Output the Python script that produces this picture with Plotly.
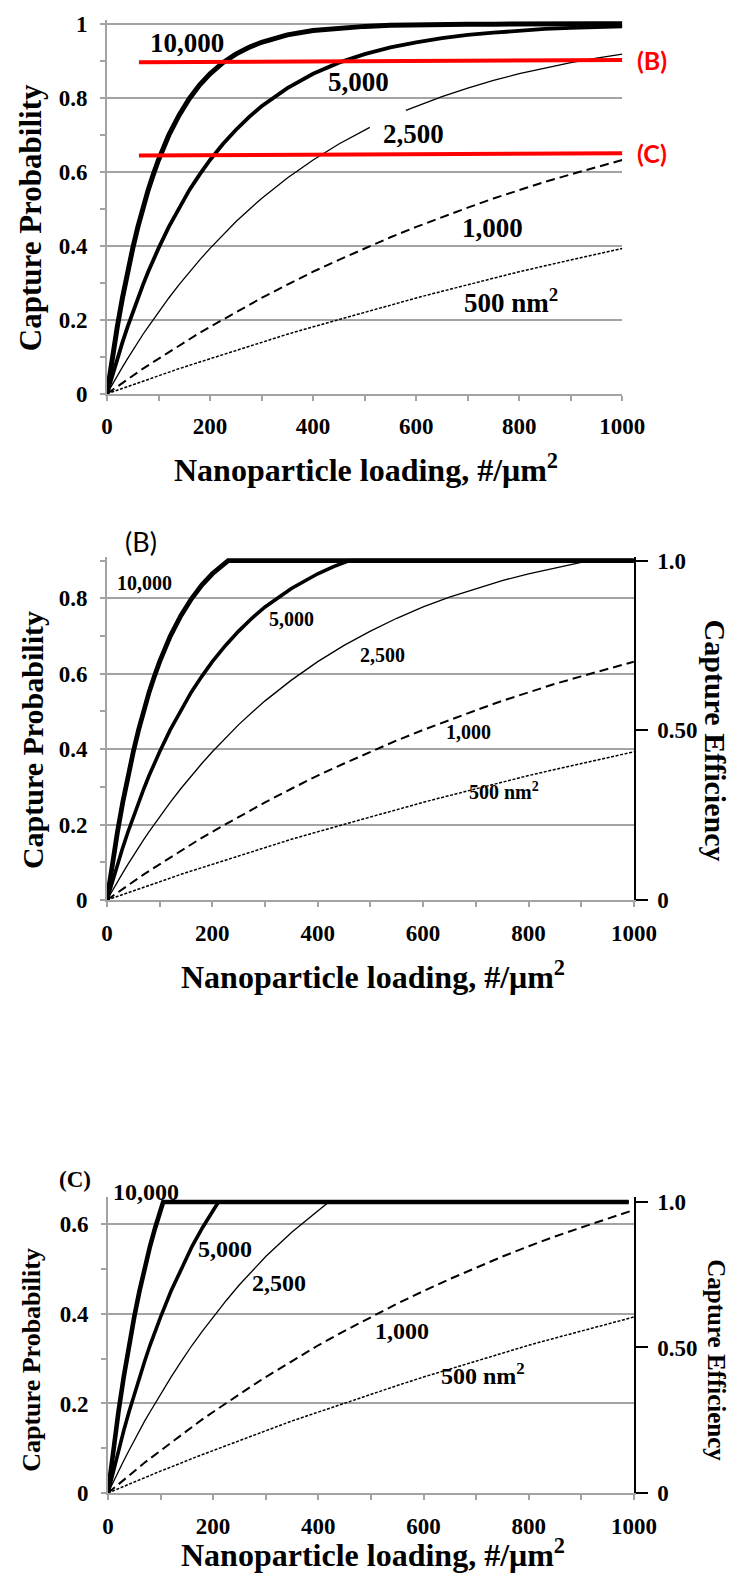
import plotly.graph_objects as go

# ---------------- data ----------------
loading = [0, 10, 20, 30, 40, 50, 60, 70, 80, 90, 100, 120, 140, 160, 180, 200, 225, 250,
           275, 300, 350, 400, 450, 500, 550, 600, 650, 700, 750, 800, 850, 900, 950, 1000]

p_10000 = [0, 0.095, 0.181, 0.259, 0.330, 0.393, 0.451, 0.503, 0.551, 0.593, 0.632, 0.699, 0.753,
           0.798, 0.835, 0.865, 0.895, 0.918, 0.936, 0.950, 0.970, 0.982, 0.989, 0.993, 0.996,
           0.998, 0.998, 0.999, 0.999, 1.0, 1.0, 1.0, 1.0, 1.0]
p_5000 = [0, 0.049, 0.095, 0.139, 0.181, 0.221, 0.259, 0.295, 0.330, 0.362, 0.393, 0.451, 0.503,
          0.551, 0.593, 0.632, 0.675, 0.713, 0.747, 0.777, 0.826, 0.865, 0.895, 0.918, 0.936,
          0.950, 0.961, 0.970, 0.976, 0.982, 0.986, 0.989, 0.991, 0.993]
p_1000 = [0, 0.010, 0.020, 0.030, 0.039, 0.049, 0.058, 0.068, 0.077, 0.086, 0.095, 0.113, 0.131,
          0.148, 0.165, 0.181, 0.201, 0.221, 0.240, 0.259, 0.295, 0.330, 0.362, 0.393, 0.423,
          0.451, 0.478, 0.503, 0.528, 0.551, 0.573, 0.593, 0.613, 0.632]
p_500 = [0, 0.005, 0.010, 0.015, 0.020, 0.025, 0.030, 0.034, 0.039, 0.044, 0.049, 0.058, 0.068,
         0.077, 0.086, 0.095, 0.106, 0.118, 0.128, 0.139, 0.161, 0.181, 0.201, 0.221, 0.240,
         0.259, 0.277, 0.295, 0.313, 0.330, 0.346, 0.362, 0.378, 0.393]

# 2,500 nm2 curve of panel A (interrupted where its label sits)
a_x_2500 = [0, 10, 20, 30, 40, 50, 60, 70, 80, 90, 100, 120, 140, 160, 180, 200, 225, 250,
            275, 300, 350, 400, 450, 500, 510, None, 580, 600, 650, 700, 750, 800, 850, 900, 950, 1000]
a_y_2500 = [0, 0.025, 0.049, 0.072, 0.095, 0.118, 0.139, 0.161, 0.181, 0.201, 0.221, 0.259, 0.295,
            0.330, 0.362, 0.393, 0.430, 0.465, 0.497, 0.528, 0.583, 0.632, 0.675, 0.713, 0.720, None,
            0.766, 0.777, 0.803, 0.826, 0.847, 0.865, 0.881, 0.895, 0.907, 0.918]

# red threshold lines of panel A
red_x = [62, 1000]
red_b = [0.896, 0.902]
red_c = [0.644, 0.650]

# panel B (capped at 0.9)
b_x_10000 = [0, 10, 20, 30, 40, 50, 60, 70, 80, 90, 100, 120, 140, 160, 180, 200, 215, 230, 1000]
b_y_10000 = [0, 0.095, 0.181, 0.259, 0.330, 0.393, 0.451, 0.503, 0.551, 0.593, 0.632, 0.699, 0.753,
             0.798, 0.835, 0.865, 0.884, 0.900, 0.900]
b_x_5000 = [0, 10, 20, 30, 40, 50, 60, 70, 80, 90, 100, 120, 140, 160, 180, 200, 225, 250, 275,
            300, 350, 400, 430, 460, 1000]
b_y_5000 = [0, 0.049, 0.095, 0.139, 0.181, 0.221, 0.259, 0.295, 0.330, 0.362, 0.393, 0.451, 0.503,
            0.551, 0.593, 0.632, 0.675, 0.713, 0.747, 0.777, 0.826, 0.865, 0.884, 0.900, 0.900]
b_x_2500 = [0, 10, 20, 30, 40, 50, 60, 70, 80, 90, 100, 120, 140, 160, 180, 200, 225, 250, 275,
            300, 350, 400, 450, 500, 550, 600, 650, 700, 750, 800, 850, 900, 920, 1000]
b_y_2500 = [0, 0.025, 0.049, 0.072, 0.095, 0.118, 0.139, 0.161, 0.181, 0.201, 0.221, 0.259, 0.295,
            0.330, 0.362, 0.393, 0.430, 0.465, 0.497, 0.528, 0.583, 0.632, 0.675, 0.713, 0.747,
            0.777, 0.803, 0.826, 0.847, 0.865, 0.881, 0.895, 0.900, 0.900]

# panel C (capped at 0.65)
c_x_10000 = [0, 10, 20, 30, 40, 50, 60, 70, 80, 90, 100, 105, 990]
c_y_10000 = [0, 0.095, 0.181, 0.259, 0.330, 0.393, 0.451, 0.503, 0.551, 0.593, 0.632, 0.650, 0.650]
c_x_5000 = [0, 10, 20, 30, 40, 50, 60, 70, 80, 90, 100, 120, 140, 160, 180, 200, 210, 990]
c_y_5000 = [0, 0.049, 0.095, 0.139, 0.181, 0.221, 0.259, 0.295, 0.330, 0.362, 0.393, 0.451, 0.503,
            0.551, 0.593, 0.632, 0.650, 0.650]
c_x_2500 = [0, 10, 20, 30, 40, 50, 60, 70, 80, 90, 100, 120, 140, 160, 180, 200, 225, 250, 275,
            300, 350, 400, 420, 990]
c_y_2500 = [0, 0.025, 0.049, 0.072, 0.095, 0.118, 0.139, 0.161, 0.181, 0.201, 0.221, 0.259, 0.295,
            0.330, 0.362, 0.393, 0.430, 0.465, 0.497, 0.528, 0.583, 0.632, 0.650, 0.650]

curve_labels = ["10,000", "5,000", "2,500", "1,000", "500 nm<sup>2</sup>"]
eff_tickvals = [0, 0.5, 1.0]
eff_ticktext = ["0", "0.50", "1.0"]

# ---------------- styling / layout ----------------
W, H = 754, 1583
SERIF = "Liberation Serif"
SANS = "Lato"
GRAY = "#a3a3a3"


def fx(p):
    return p / W


def fy(p):
    return 1 - p / H


# pixel geometry of the three plot areas: (left px, right px, bottom px, px per unit y)
GEO = {
    "A": (105, 641, 391, 375.0),
    "B": (105, 653, 904, (904 - 560) / 0.9),
    "C": (106, 653, 1505, (1505 - 1210) / 0.65),
}
TOPS = {"A": 1.01, "B": 0.91, "C": 0.66}


def paper_xy(panel, xv, yv):
    l, r, b, s = GEO[panel]
    return fx(l + xv / 1000.0 * (r - l)), fy(b - yv * s)


fig = go.Figure()


def add_line(x, y, xa, ya, width, dash="solid", color="black"):
    fig.add_trace(go.Scatter(x=x, y=y, mode="lines", xaxis=xa, yaxis=ya,
                             line=dict(color=color, width=width, dash=dash),
                             showlegend=False, hoverinfo="skip", connectgaps=False))


DASH = "9px,5px"
DOT = "3px,1.6px"

# panel A
add_line(loading, p_500, "x", "y", 1.5, DOT)
add_line(loading, p_1000, "x", "y", 2, DASH)
add_line(a_x_2500, a_y_2500, "x", "y", 1.3)
add_line(loading, p_5000, "x", "y", 3.8)
add_line(loading, p_10000, "x", "y", 5)
add_line(red_x, red_b, "x", "y", 4, color="#ff0000")
add_line(red_x, red_c, "x", "y", 4, color="#ff0000")

# panel B
add_line(loading, p_500, "x2", "y2", 1.5, DOT)
add_line(loading, p_1000, "x2", "y2", 2, DASH)
add_line(b_x_2500, b_y_2500, "x2", "y2", 1.3)
add_line(b_x_5000, b_y_5000, "x2", "y2", 3.6)
add_line(b_x_10000, b_y_10000, "x2", "y2", 4.8)

# panel C
add_line(loading, p_500, "x3", "y3", 1.5, DOT)
add_line(loading, p_1000, "x3", "y3", 2, DASH)
add_line(c_x_2500, c_y_2500, "x3", "y3", 1.3)
add_line(c_x_5000, c_y_5000, "x3", "y3", 3.6)
add_line(c_x_10000, c_y_10000, "x3", "y3", 4.6)

# empty traces so the secondary (efficiency) axes get drawn
for ya in ("y4", "y5"):
    fig.add_trace(go.Scatter(x=[None], y=[None], mode="lines", xaxis="x2" if ya == "y4" else "x3",
                             yaxis=ya, showlegend=False, hoverinfo="skip"))

tickfont = dict(family=SERIF, size=23, color="black", weight="bold")


def xaxis(domain, anchor):
    return dict(domain=domain, anchor=anchor, range=[0, 1000], tick0=0, dtick=200,
                ticks="outside", ticklen=5, tickwidth=1.5, tickcolor=GRAY,
                showline=True, linecolor=GRAY, linewidth=2, showgrid=False, zeroline=False,
                tickfont=tickfont, ticklabelstandoff=6,
                minor=dict(dtick=100, tick0=0, ticks="outside", ticklen=5, tickwidth=1.5,
                           tickcolor=GRAY, showgrid=False))


def yaxis(domain, anchor, rng):
    return dict(domain=domain, anchor=anchor, range=rng, tick0=0, dtick=0.2,
                ticks="outside", ticklen=5, tickwidth=1.5, tickcolor=GRAY,
                showline=True, linecolor=GRAY, linewidth=1.5,
                showgrid=True, gridcolor=GRAY, gridwidth=1.5, zeroline=False,
                tickfont=tickfont, ticklabelstandoff=8,
                minor=dict(dtick=0.1, tick0=0, ticks="outside", ticklen=5, tickwidth=1.5,
                           tickcolor=GRAY, showgrid=False))


def eff_axis(over, anchor, top):
    return dict(overlaying=over, anchor=anchor, side="right", range=[0, top],
                tickvals=eff_tickvals, ticktext=eff_ticktext, ticks="outside", ticklen=12,
                tickwidth=1.5, tickcolor="black", showline=True, linecolor="black",
                linewidth=1.5, showgrid=False, zeroline=False, tickfont=tickfont,
                ticklabelstandoff=5)


def dom_x(panel):
    l, r, b, s = GEO[panel]
    return [fx(l), fx(r)]


def dom_y(panel):
    l, r, b, s = GEO[panel]
    return [fy(b), fy(b - TOPS[panel] * s)]


fig.update_layout(
    width=W, height=H, autosize=False,
    margin=dict(l=0, r=0, t=0, b=0),
    paper_bgcolor="white", plot_bgcolor="white",
    xaxis=xaxis(dom_x("A"), "y"),
    yaxis=yaxis(dom_y("A"), "x", [0, TOPS["A"]]),
    xaxis2=xaxis(dom_x("B"), "y2"),
    yaxis2=yaxis(dom_y("B"), "x2", [0, TOPS["B"]]),
    xaxis3=xaxis(dom_x("C"), "y3"),
    yaxis3=yaxis(dom_y("C"), "x3", [0, TOPS["C"]]),
    yaxis4=eff_axis("y2", "x2", TOPS["B"] / 0.9),
    yaxis5=eff_axis("y3", "x3", TOPS["C"] / 0.65),
)

ann = []


def text(x, y, s, size, family=SERIF, weight="bold", color="black", angle=0):
    ann.append(dict(x=x, y=y, xref="paper", yref="paper", text=s, showarrow=False,
                    xanchor="center", yanchor="middle", textangle=angle,
                    font=dict(family=family, size=size, color=color, weight=weight)))


def dtext(panel, xv, yv, s, size, **kw):
    px, py = paper_xy(panel, xv, yv)
    text(px, py, s, size, **kw)


XTITLE = "Nanoparticle loading, #/\u03bcm<sup>2</sup>"

# axis titles
text(fx(25), fy(213), "Capture Probability", 31, angle=-90)
text(fx(374), fy(466), XTITLE, 32)
text(fx(27), fy(742), "Capture Probability", 30, angle=-90)
text(fx(738), fy(742), "Capture Efficiency", 30, angle=90)
text(fx(382), fy(980), XTITLE, 32)
text(fx(27), fy(1370), "Capture Probability", 26, angle=-90)
text(fx(739), fy(1370), "Capture Efficiency", 25, angle=90)
text(fx(382), fy(1566), XTITLE, 32)

# panel A labels
posA = [(156, 0.947), (488, 0.844), (595, 0.701), (748, 0.447), (784, 0.251)]
for lab, (x, y) in zip(curve_labels, posA):
    dtext("A", x, y, lab, 27)
dtext("A", 1057, 0.902, "(B)", 25, family=SANS, color="#ff0000")
dtext("A", 1057, 0.652, "(C)", 25, family=SANS, color="#ff0000")

# panel B labels
posB = [(72, 0.84), (351, 0.746), (523, 0.650), (687, 0.445), (753, 0.288)]
for lab, (x, y) in zip(curve_labels, posB):
    dtext("B", x, y, lab, 20)
dtext("B", 64, 0.95, "(B)", 27, family=SANS, weight="normal")

# panel C labels
posC = [(72, 0.672), (223, 0.545), (325, 0.468), (559, 0.361), (713, 0.265)]
for lab, (x, y) in zip(curve_labels, posC):
    dtext("C", x, y, lab, 24)
dtext("C", -62, 0.70, "(C)", 23)

fig.update_layout(annotations=ann)

fig.write_html("out.html")
